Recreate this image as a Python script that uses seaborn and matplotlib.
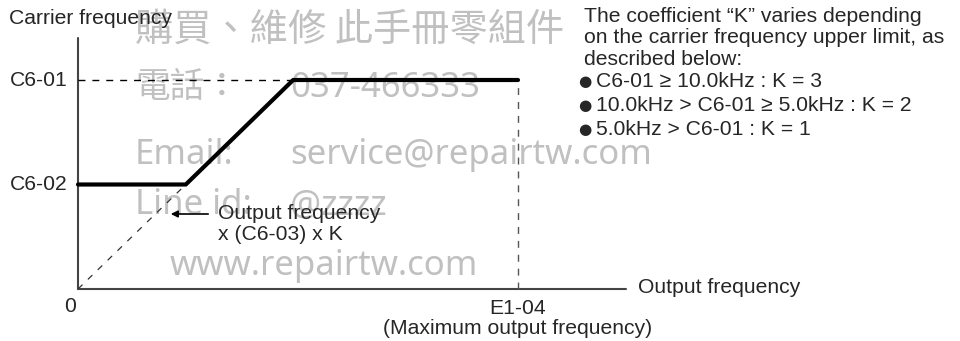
import numpy as np
import pandas as pd
import matplotlib
matplotlib.use("Agg")
import matplotlib.pyplot as plt
import seaborn as sns

# carrier frequency vs output frequency (output freq in % of E1-04)
out_freq = [0, 24.5, 48.9, 100]
carrier = [5, 5, 10, 10]
c6_01 = 10
c6_02 = 5
e1_04 = 100
axis_x_end = 124.5
axis_y_end = 12

k_lines = ["The coefficient \u201cK\u201d varies depending",
           "on the carrier frequency upper limit, as",
           "described below:"]
k_bullets = ["C6-01 \u2265 10.0kHz : K = 3",
             "10.0kHz > C6-01 \u2265 5.0kHz : K = 2",
             "5.0kHz > C6-01 : K = 1"]

wm_labels = ["\u96fb\u8a71\uff1a", "Email:", "Line id:"]
wm_values = ["037-466333", "service@repairtw.com", "@zzzz"]
wm_title = "\u8cfc\u8cb7\u3001\u7dad\u4fee \u6b64\u624b\u518a\u96f6\u7d44\u4ef6"
wm_site = "www.repairtw.com"

sns.set_style("white")
plt.rcParams['font.family'] = ['Liberation Sans', 'DejaVu Sans']

fig = plt.figure(figsize=(9.6, 3.41), dpi=100)
ax = fig.add_axes([0, 0, 1, 1])
# pixel mapping: x=0 -> 78px, x=100 -> 518px ; y=0 -> 289px, y=10 -> 80px
sx = 4.4
sy = 20.9
ax.set_xlim(-78 / sx, (960 - 78) / sx)
ax.set_ylim(-(341 - 289) / sy, 289 / sy)
ax.axis("off")


def px(x, y):
    return (x - 78) / sx, (289 - y) / sy


fs = 15.2
wm_color = "#c0c0c0"
wm_font = ['Noto Sans CJK TC', 'DejaVu Sans']
wm_fs = 25

# watermark (behind everything)
ax.text(*px(135, 41), wm_title, fontsize=27.5, color=wm_color, family=wm_font,
        va="baseline", ha="left", zorder=0)
for lab, val, base in zip(wm_labels, wm_values, [97, 164, 214]):
    ax.text(*px(135, base), lab, fontsize=wm_fs, color=wm_color,
            family=wm_font if lab.startswith("\u96fb") else ['Noto Sans', 'DejaVu Sans'],
            va="baseline", ha="left", zorder=0)
    ax.text(*px(290, base), val, fontsize=wm_fs, color=wm_color, family=['Noto Sans', 'DejaVu Sans'],
            va="baseline", ha="left", zorder=0)
ax.text(*px(170, 275), wm_site, fontsize=wm_fs, color=wm_color, family=['Noto Sans', 'DejaVu Sans'],
        va="baseline", ha="left", zorder=0)

# axes
ax.plot([0, 0], [0, axis_y_end], color="#444444", lw=1.5, zorder=2)
ax.plot([0, axis_x_end], [0, 0], color="#444444", lw=1.5, zorder=2)

# main curve
df = pd.DataFrame({"out": out_freq, "carrier": carrier})
sns.lineplot(data=df, x="out", y="carrier", color="black", lw=3, ax=ax,
             sort=False, estimator=None, zorder=3)

# dashed guides
ax.plot([0, out_freq[2]], [c6_01, c6_01], color="black", lw=1, ls=(0, (5, 5)), zorder=2)
ax.plot([e1_04, e1_04], [0, c6_01], color="#555555", lw=1, ls=(0, (5, 5)), zorder=2)
ax.plot([0, out_freq[1]], [0, c6_02], color="#333333", lw=0.9, ls=(0, (5, 6)), zorder=2)

# labels
ax.text(*px(9, 18), "Carrier frequency", fontsize=fs, va="center", ha="left")
ax.text(-10 / sx, c6_01, "C6-01", fontsize=fs, va="center", ha="right")
ax.text(-10 / sx, c6_02, "C6-02", fontsize=fs, va="center", ha="right")
ax.text(-8 / sx, -17 / sy, "0", fontsize=fs, va="center", ha="center")
ax.text(e1_04, -19 / sy, "E1-04", fontsize=fs, va="center", ha="center")
ax.text(e1_04, -39 / sy, "(Maximum output frequency)", fontsize=fs, va="center", ha="center")
ax.text(axis_x_end + 12 / sx, 0.05, "Output frequency", fontsize=fs, va="center", ha="left")

ax.annotate("", xy=px(168, 214), xytext=px(211, 214),
            arrowprops=dict(arrowstyle="-|>", color="black", lw=1.2, mutation_scale=10))
ax.text(*px(218, 213), "Output frequency", fontsize=fs, va="center", ha="left")
ax.text(*px(218, 234), "x (C6-03) x K", fontsize=fs, va="center", ha="left")

for i, line in enumerate(k_lines):
    ax.text(*px(584, 16 + 21.5 * i), line, fontsize=fs, va="center", ha="left")
for i, line in enumerate(k_bullets):
    yy = 81 + 24 * i
    ax.text(*px(578, yy), "\u25cf", fontsize=11, va="center", ha="left", family="DejaVu Sans")
    ax.text(*px(596, yy), line, fontsize=fs, va="center", ha="left")

fig.savefig("out.png", dpi=100)
